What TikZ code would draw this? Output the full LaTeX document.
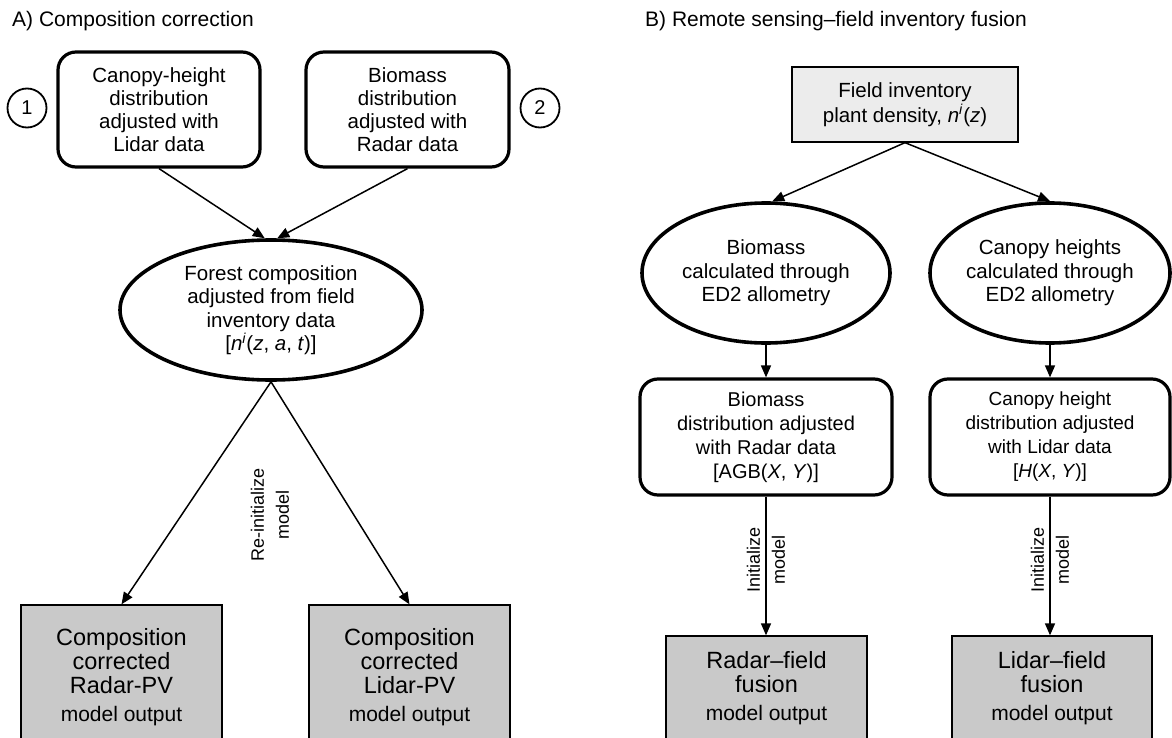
\documentclass[tikz,border=0pt]{standalone}
\usepackage{fontspec}
\setmainfont{Liberation Sans}
\usetikzlibrary{shapes.geometric,arrows.meta,calc}
\definecolor{outgray}{HTML}{C9C9C9}
\definecolor{fieldgray}{HTML}{ECECEC}
\begin{document}
\begin{tikzpicture}[x=1pt,y=-1pt,
  rbox/.style={draw, line width=3.2pt, rounded corners=18pt, align=center, inner sep=0pt, font=\fontsize{20.5}{23}\selectfont},
  ell/.style={draw, ellipse, line width=3.6pt, align=center, inner sep=0pt, font=\fontsize{20.5}{23.5}\selectfont},
  outbox/.style={draw, line width=1.3pt, fill=outgray, align=center, inner sep=0pt, font=\fontsize{23.5}{24}\selectfont},
  fieldbox/.style={draw, line width=1.3pt, fill=fieldgray, align=center, inner sep=0pt, font=\fontsize{20.5}{25}\selectfont},
  num/.style={draw, circle, line width=1.8pt, minimum size=39pt, inner sep=0pt, font=\fontsize{20}{24}\selectfont},
  lbl/.style={align=center, inner sep=0pt, font=\fontsize{18}{25}\selectfont},
  ttl/.style={anchor=west, inner sep=0pt, font=\fontsize{21}{25}\selectfont},
  arr/.style={-{Triangle[length=12pt,width=10pt]}, line width=1.5pt}]
\useasboundingbox (0,0) rectangle (1172,738);
\fill[white] (0,0) rectangle (1172,738);
\clip (0,0) rectangle (1172,738);

% titles
\node[ttl] (tA) at (12,21) {A) Composition correction};
\node[ttl] (tB) at (645,21) {B) Remote sensing--field inventory fusion};

% panel A
\node[num] (c1) at (27,108) {1};
\node[num] (c2) at (540,108) {2};
\node[rbox, minimum width=202pt, minimum height=115pt] (b1) at (159,109.5) {Canopy-height\\distribution\\adjusted with\\Lidar data};
\node[rbox, minimum width=203pt, minimum height=115pt] (b2) at (407.5,109.5) {Biomass\\distribution\\adjusted with\\Radar data};
\node[ell, minimum width=302pt, minimum height=140pt] (eA) at (271,310) {Forest composition\\adjusted from field\\inventory data\\{[}\textit{n}\textsuperscript{\textit{i}}(\textit{z}, \textit{a}, \textit{t}){]}};
\node[outbox, minimum width=201pt, minimum height=144pt] (o1) at (121.5,677) {Composition\\corrected\\Radar-PV\\[4pt]{\fontsize{21}{24}\selectfont model output}};
\node[outbox, minimum width=201pt, minimum height=144pt] (o2) at (409.5,677) {Composition\\corrected\\Lidar-PV\\[4pt]{\fontsize{21}{24}\selectfont model output}};

\draw[arr] (b1.south) -- (eA.95);
\draw[arr] (b2.south) -- (eA.85);
\draw[arr] (eA.south) -- (o1.north);
\draw[arr] (eA.south) -- (o2.north);
\node[lbl, rotate=90] (reinit) at (270,515) {Re-initialize\\model};

% panel B
\node[fieldbox, minimum width=226pt, minimum height=75pt] (fi) at (905,104.5) {Field inventory\\plant density, \textit{n}\textsuperscript{\textit{i}}(\textit{z})};
\node[ell, minimum width=248pt, minimum height=140pt] (e1) at (766,273) {Biomass\\calculated through\\ED2 allometry};
\node[ell, minimum width=240pt, minimum height=140pt] (e2) at (1050,273) {Canopy heights\\calculated through\\ED2 allometry};
\node[rbox, minimum width=252pt, minimum height=116pt, font=\fontsize{20}{24}\selectfont] (r1) at (766,437) {Biomass\\distribution adjusted\\with Radar data\\{[}AGB(\textit{X}, \textit{Y}){]}};
\node[rbox, minimum width=240pt, minimum height=116pt, font=\fontsize{19}{24}\selectfont] (r2) at (1050,437) {Canopy height\\distribution adjusted\\with Lidar data\\{[}\textit{H}(\textit{X}, \textit{Y}){]}};
\node[outbox, minimum width=201pt, minimum height=104pt] (f1) at (766.5,688) {Radar--field\\fusion\\[4pt]{\fontsize{21}{24}\selectfont model output}};
\node[outbox, minimum width=200pt, minimum height=104pt] (f2) at (1052,688) {Lidar--field\\fusion\\[4pt]{\fontsize{21}{24}\selectfont model output}};

\draw[arr] (fi.south) -- (e1.85);
\draw[arr] (fi.south) -- (e2.north);
\draw[arr] (e1.south) -- (e1.south |- r1.north);
\draw[arr] (e2.south) -- (e2.south |- r2.north);
\draw[arr] (r1.south) -- (r1.south |- f1.north);
\draw[arr] (r2.south) -- (r2.south |- f2.north);
\node[lbl, rotate=90] (init1) at (766,560) {Initialize\\model};
\node[lbl, rotate=90] (init2) at (1050,560) {Initialize\\model};
\end{tikzpicture}
\end{document}
